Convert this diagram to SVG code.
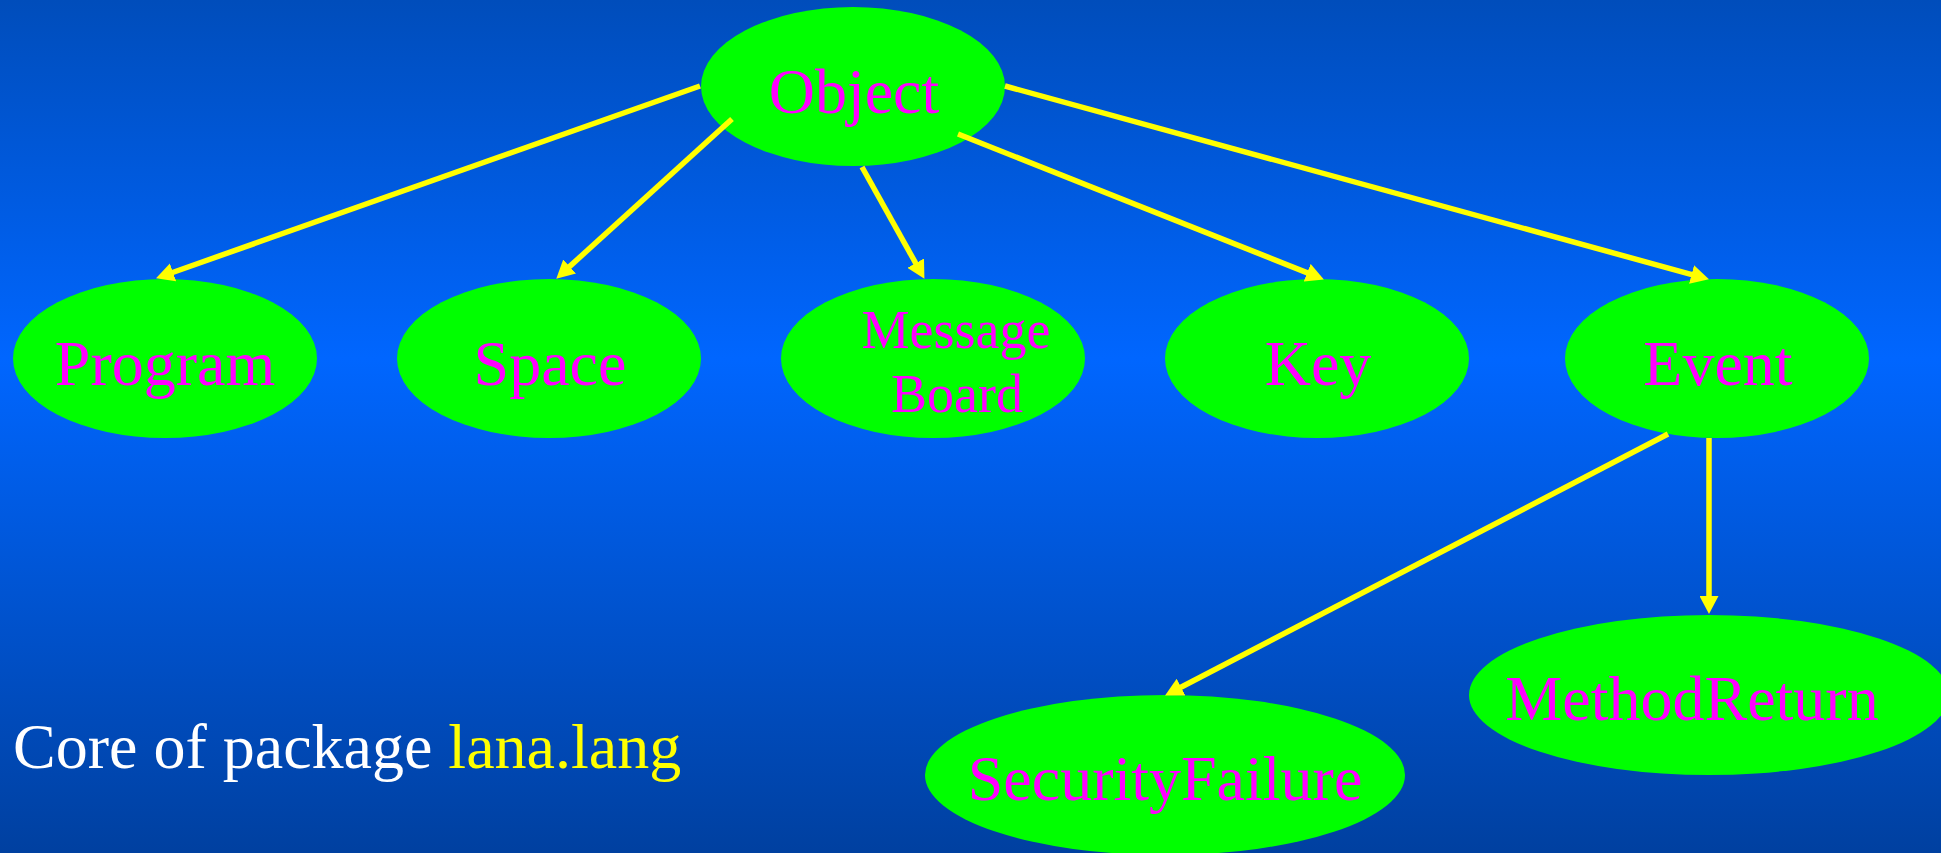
<svg xmlns="http://www.w3.org/2000/svg" width="1941" height="853" viewBox="0 0 1941 853">
<defs>
<linearGradient id="bg" x1="0" y1="0" x2="0" y2="1">
<stop offset="0" stop-color="#004DBB"/>
<stop offset="0.42" stop-color="#0066FF"/>
<stop offset="1" stop-color="#0040A0"/>
</linearGradient>
<marker id="ah" markerUnits="userSpaceOnUse" markerWidth="18" markerHeight="19" refX="5" refY="9.5" orient="auto">
<path d="M0,0 L18,9.5 L0,19 Z" fill="#FFFF00"/>
</marker>
<style>
.node ellipse { fill: #00FF00; }
.node text { fill: #FF00FF; font-family: "Liberation Serif", "Times New Roman", serif; font-size: 64px; text-anchor: middle; }
.node text.small { font-size: 54px; }
#connectors line { stroke: #FFFF00; stroke-width: 5.5; marker-end: url(#ah); }
.caption { font-family: "Liberation Serif", "Times New Roman", serif; font-size: 64px; fill: #FFFFFF; }
</style>
</defs>
<rect x="0" y="0" width="1941" height="853" fill="url(#bg)"/>

<g id="node-object" class="node">
<ellipse cx="853" cy="86.5" rx="152" ry="79.5"/>
<text x="854" y="113">Object</text>
</g>
<g id="node-program" class="node">
<ellipse cx="165" cy="358.5" rx="152" ry="79.5"/>
<text x="165" y="385">Program</text>
</g>
<g id="node-space" class="node">
<ellipse cx="549" cy="358.5" rx="152" ry="79.5"/>
<text x="550" y="385">Space</text>
</g>
<g id="node-messageboard" class="node">
<ellipse cx="933" cy="358.5" rx="152" ry="79.5"/>
<text class="small" x="956" y="348">Message</text>
<text class="small" x="957" y="412">Board</text>
</g>
<g id="node-key" class="node">
<ellipse cx="1317" cy="358.5" rx="152" ry="79.5"/>
<text x="1318" y="385">Key</text>
</g>
<g id="node-event" class="node">
<ellipse cx="1717" cy="358.5" rx="152" ry="79.5"/>
<text x="1718" y="385">Event</text>
</g>
<g id="node-securityfailure" class="node">
<ellipse cx="1165" cy="775" rx="240" ry="80"/>
<text x="1165" y="800">SecurityFailure</text>
</g>
<g id="node-methodreturn" class="node">
<ellipse cx="1709" cy="695" rx="240" ry="80"/>
<text x="1692" y="720">MethodReturn</text>
</g>

<g id="connectors">
<line x1="700" y1="86" x2="168.3" y2="274"/>
<line x1="732" y1="119" x2="565.9" y2="269.9"/>
<line x1="862" y1="167" x2="918.1" y2="267.5"/>
<line x1="958" y1="134" x2="1311.8" y2="274.6"/>
<line x1="1005" y1="86" x2="1696.4" y2="275.8"/>
<line x1="1668" y1="434" x2="1176.6" y2="689.5"/>
<line x1="1709" y1="438" x2="1709" y2="601"/>
</g>

<text class="caption" x="13" y="768">Core of package <tspan fill="#FFFF00">lana.lang</tspan></text>
</svg>
